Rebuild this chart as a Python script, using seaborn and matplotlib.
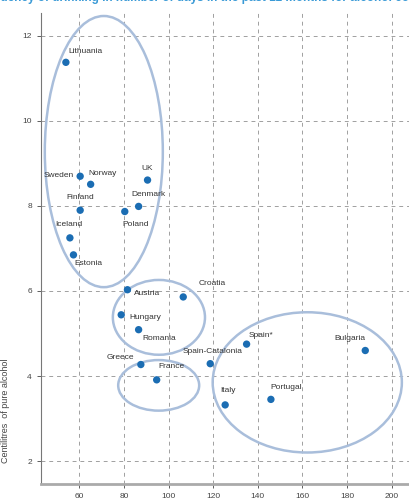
import pandas as pd
import matplotlib.pyplot as plt
import seaborn as sns
from matplotlib.patches import Ellipse

# data
countries = ['Lithuania', 'Sweden', 'Norway', 'UK', 'Finland', 'Denmark', 'Poland',
             'Iceland', 'Estonia', 'Austria', 'Croatia', 'Hungary', 'Romania',
             'Greece', 'France', 'Spain-Catalonia', 'Spain*', 'Bulgaria', 'Italy', 'Portugal']
days = [54.0, 60.4, 65.1, 90.6, 60.4, 86.6, 80.4, 55.8, 57.4, 81.6, 106.6, 78.8, 86.6,
        87.6, 94.7, 118.7, 135.0, 188.2, 125.4, 145.9]
centilitres = [11.38, 8.70, 8.51, 8.61, 7.90, 7.99, 7.87, 7.25, 6.85, 6.03, 5.86, 5.44, 5.09,
               4.27, 3.91, 4.29, 4.75, 4.60, 3.32, 3.45]

# label placement: (dx px, dy px, ha)
label_pos = {
    'Lithuania': (2, 11, 'left'), 'Sweden': (-6, 1, 'right'), 'Norway': (-2, 11, 'left'),
    'UK': (0, 12, 'center'), 'Finland': (0, 12.5, 'center'), 'Denmark': (-7, 12, 'left'),
    'Poland': (-2, -13, 'left'), 'Iceland': (-1, 13, 'center'), 'Estonia': (1, -9, 'left'),
    'Austria': (7, -4, 'left'), 'Croatia': (15, 13, 'left'), 'Hungary': (8, -3, 'left'),
    'Romania': (4, -9, 'left'), 'Greece': (-7, 7, 'right'), 'France': (2, 13, 'left'),
    'Spain-Catalonia': (2, 12, 'center'), 'Spain*': (2, 9, 'left'), 'Bulgaria': (-15, 12, 'center'),
    'Italy': (3, 14, 'center'), 'Portugal': (-1, 12, 'left'),
}

# cluster ellipses: centre x, centre y, width, height
ell_x = [71.0, 95.7, 95.6, 162.2]
ell_y = [9.28, 5.38, 3.78, 3.85]
ell_w = [52.9, 41.3, 36.3, 84.8]
ell_h = [6.38, 1.76, 1.19, 3.30]

df = pd.DataFrame({'country': countries, 'days': days, 'cl': centilitres})

sns.set_style('white')
plt.rcParams['font.family'] = ['Liberation Sans', 'DejaVu Sans']

fig = plt.figure(figsize=(4.09, 5.01), dpi=100)
ax = fig.add_axes([0.1, 0.034, 0.9, 0.94])

for x, y, w, h in zip(ell_x, ell_y, ell_w, ell_h):
    ax.add_patch(Ellipse((x, y), w, h, fill=False, edgecolor='#a9bedb', lw=1.8, zorder=2))

sns.scatterplot(data=df, x='days', y='cl', color='#1b6db3', s=28, edgecolor='none',
                ax=ax, zorder=3)

for c, x, y in zip(countries, days, centilitres):
    dx, dy, ha = label_pos[c]
    ax.annotate(c, (x, y), xytext=(dx, dy), textcoords='offset pixels', ha=ha, va='center',
                fontsize=6, color='#333333')

ax.set_xlim(42.8, 207.8)
ax.set_ylim(1.46, 12.54)
ax.set_xticks(range(60, 201, 20))
ax.set_yticks(range(2, 13, 2))
ax.grid(True, ls=(0, (4, 4)), color='#a0a0a0', lw=0.7)
ax.set_axisbelow(True)

for s in ['top', 'right']:
    ax.spines[s].set_visible(False)
ax.spines['left'].set_color('#777777')
ax.spines['left'].set_linewidth(0.8)
ax.spines['bottom'].set_color('#aaaaaa')
ax.spines['bottom'].set_linewidth(2)
ax.tick_params(axis='both', labelsize=6, colors='#444444', length=3, width=0.6,
               direction='out', left=True, bottom=True)
ax.set_xlabel('')
ax.set_ylabel('Centilitres  of pure alcohol', fontsize=6.5, color='#444444')
ax.yaxis.set_label_coords(-0.085, 0.155)

fig.text(-0.06, 1.003, 'Frequency of drinking in number of days in the past 12 months for alcohol consumers',
         fontsize=8.5, fontweight='bold', color='#3a9ad6', ha='left', va='center')

fig.savefig('out.png', dpi=100)
